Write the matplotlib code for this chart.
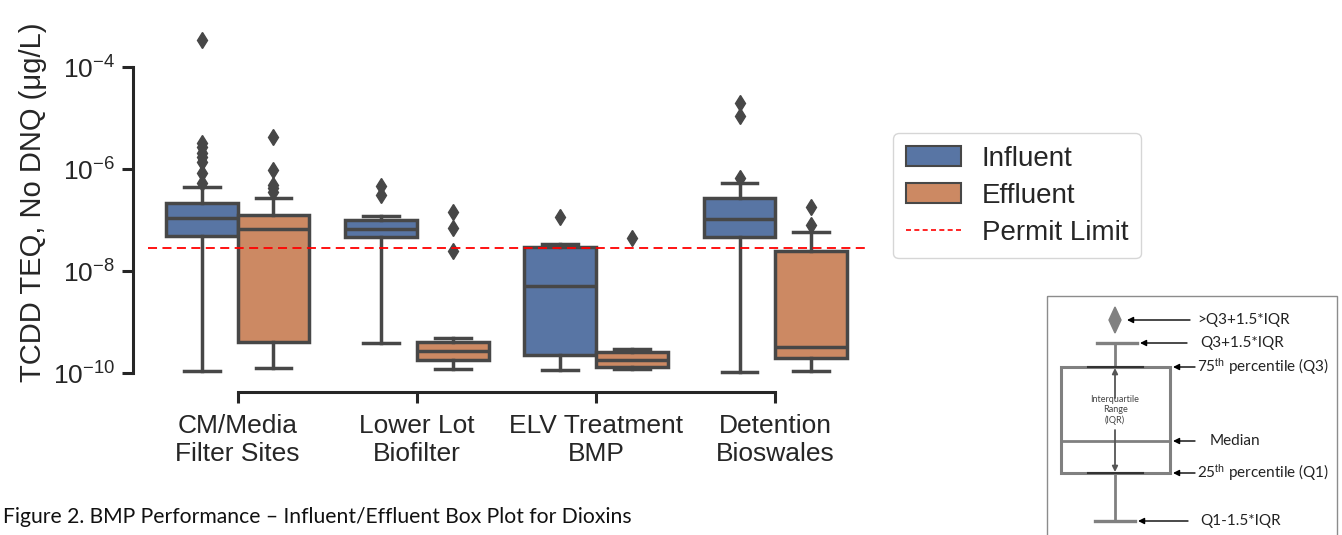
import matplotlib
matplotlib.use('Agg')
import matplotlib.pyplot as plt
from matplotlib.patches import Patch, Rectangle, Polygon
from matplotlib.lines import Line2D
from matplotlib.ticker import LogFormatterSciNotation, NullLocator, FixedLocator

plt.rcParams['font.family'] = ['Liberation Sans', 'DejaVu Sans']
plt.rcParams['mathtext.fontset'] = 'custom'
plt.rcParams['mathtext.rm'] = 'Liberation Sans'
plt.rcParams['mathtext.it'] = 'Liberation Sans:italic'
plt.rcParams['mathtext.bf'] = 'Liberation Sans:bold'
plt.rcParams['mathtext.sf'] = 'Liberation Sans'

# ---------------- data ----------------
categories = ["CM/Media\nFilter Sites", "Lower Lot\nBiofilter", "ELV Treatment\nBMP", "Detention\nBioswales"]
series_names = ["Influent", "Effluent"]

influent_q1 = [4.9e-8, 4.7e-8, 2.3e-10, 4.7e-8]
influent_med = [1.1e-7, 6.6e-8, 5.1e-9, 1.05e-7]
influent_q3 = [2.15e-7, 1.0e-7, 2.95e-8, 2.7e-7]
influent_whislo = [1.1e-10, 3.9e-10, 1.15e-10, 1.04e-10]
influent_whishi = [4.5e-7, 1.2e-7, 3.4e-8, 5.4e-7]
influent_fliers = [[3.4e-4, 3.2e-6, 2.7e-6, 2.1e-6, 1.7e-6, 1.4e-6, 8.3e-7, 5.4e-7],
                   [4.7e-7, 3.1e-7],
                   [1.15e-7],
                   [1.96e-5, 1.1e-5, 6.6e-7]]

effluent_q1 = [4.1e-10, 1.8e-10, 1.3e-10, 2.0e-10]
effluent_med = [6.6e-8, 2.7e-10, 1.8e-10, 3.2e-10]
effluent_q3 = [1.26e-7, 4.1e-10, 2.6e-10, 2.5e-8]
effluent_whislo = [1.26e-10, 1.2e-10, 1.2e-10, 1.1e-10]
effluent_whishi = [2.7e-7, 4.9e-10, 2.95e-10, 5.8e-8]
effluent_fliers = [[4.3e-6, 9.5e-7, 4.9e-7, 4.3e-7, 3.5e-7],
                   [1.45e-7, 6.9e-8, 2.5e-8],
                   [4.5e-8],
                   [1.8e-7, 8e-8]]

permit_limit = 2.8e-8
y_ticks = [1e-10, 1e-8, 1e-6, 1e-4]
ylabel = "TCDD TEQ, No DNQ (μg/L)"
caption = "Figure 2. BMP Performance \u2013 Influent/Effluent Box Plot for Dioxins"

# ---------------- style ----------------
W, H = 1342, 535
BLUE = '#5875a4'
ORANGE = '#cc8963'
LINE = '#474747'
SPINE = '#262626'


def fr(x0, y0, x1, y1):
    return [x0 / W, 1 - y1 / H, (x1 - x0) / W, (y1 - y0) / H]


fig = plt.figure(figsize=(W / 100, H / 100), dpi=100)
ax = fig.add_axes(fr(148, 25, 865, 380))


def make_stats(q1, med, q3, lo, hi, fl):
    return [dict(q1=a, med=b, q3=c, whislo=d, whishi=e, fliers=f)
            for a, b, c, d, e, f in zip(q1, med, q3, lo, hi, fl)]


groups = [
    (make_stats(influent_q1, influent_med, influent_q3, influent_whislo, influent_whishi, influent_fliers), -0.2, BLUE),
    (make_stats(effluent_q1, effluent_med, effluent_q3, effluent_whislo, effluent_whishi, effluent_fliers), 0.2, ORANGE),
]
lw = 2.5
for stats, off, col in groups:
    pos = [i + off for i in range(len(categories))]
    ax.bxp(stats, positions=pos, widths=0.4, capwidths=0.2, patch_artist=True,
           manage_ticks=False,
           boxprops=dict(facecolor=col, edgecolor=LINE, linewidth=lw),
           medianprops=dict(color=LINE, linewidth=lw),
           whiskerprops=dict(color=LINE, linewidth=lw),
           capprops=dict(color=LINE, linewidth=lw),
           flierprops=dict(marker='d', markerfacecolor=LINE, markeredgecolor=LINE,
                           markersize=8, linestyle='none'))

ax.axhline(permit_limit, color='red', linestyle=(0, (5, 3)), linewidth=1.3, zorder=10)

ax.set_yscale('log')
ax.set_ylim(10 ** -10.137, 10 ** -3.176)
ax.set_xlim(-0.5, len(categories) - 0.5)
ax.yaxis.set_major_locator(FixedLocator(y_ticks))
ax.yaxis.set_minor_locator(NullLocator())
ax.yaxis.set_major_formatter(LogFormatterSciNotation())

for s in ['top', 'right']:
    ax.spines[s].set_visible(False)
ax.spines['left'].set_position(('outward', 10.8))
ax.spines['bottom'].set_position(('outward', 8.6))
ax.spines['left'].set_bounds(y_ticks[0], y_ticks[-1])
ax.spines['bottom'].set_bounds(0, len(categories) - 1)
for s in ['left', 'bottom']:
    ax.spines[s].set_linewidth(2.2)
    ax.spines[s].set_color(SPINE)
ax.tick_params(axis='both', length=8, width=2.2, color=SPINE, labelcolor=SPINE)
ax.tick_params(axis='y', labelsize=19, pad=5)
ax.tick_params(axis='x', labelsize=19, pad=8)
ax.set_xticks(range(len(categories)))
ax.set_xticklabels(categories, fontsize=19, linespacing=1.2, color=SPINE)
ax.set_ylabel(ylabel, fontsize=21, color=SPINE, labelpad=4)
ax.patch.set_visible(False)

# legend
handles = [Patch(facecolor=BLUE, edgecolor=LINE, linewidth=1.5),
           Patch(facecolor=ORANGE, edgecolor=LINE, linewidth=1.5),
           Line2D([], [], color='red', linestyle=(0, (3, 2)), linewidth=1.2)]
labels = series_names + ["Permit Limit"]
leg = fig.legend(handles, labels, loc='upper left', bbox_to_anchor=(893 / W, 1 - 133 / H),
                 fontsize=20, frameon=True, fancybox=True, edgecolor='#cccccc',
                 handlelength=2.0, handleheight=0.7, handletextpad=0.75,
                 labelspacing=0.4, borderpad=0.45, borderaxespad=0)
for t in leg.get_texts():
    t.set_color(SPINE)

# caption
fig.text(3 / W, 1 - 517 / H, caption, ha='left', va='center', fontsize=15.2,
         family=['Lato', 'DejaVu Sans'], color='#111111')

# ---------------- explanatory key (schematic) ----------------
ov = fig.add_axes([0, 0, 1, 1])
ov.set_xlim(0, W)
ov.set_ylim(H, 0)
ov.axis('off')
G = '#808080'
ov.add_patch(Rectangle((1047, 296), 290, 260, fill=False, ec='#8c8c8c', lw=1.0))
ov.add_patch(Rectangle((1061, 367), 109, 106, fill=False, ec=G, lw=2.2))
ov.plot([1061, 1170], [441, 441], color=G, lw=2.0)
ov.plot([1115, 1115], [343, 367], color=G, lw=2.0)
ov.plot([1097, 1137], [343, 343], color=G, lw=2.4)
ov.plot([1115, 1115], [473, 521], color=G, lw=2.0)
ov.plot([1095, 1135], [521, 521], color=G, lw=2.4)
ov.plot([1088, 1143], [367, 367], color='#333333', lw=1.5)
ov.plot([1088, 1143], [473, 473], color='#333333', lw=1.5)
ov.add_patch(Polygon([(1115, 307), (1121, 320), (1115, 333), (1109, 320)], closed=True,
                     fc=G, ec=G))
ap = dict(arrowstyle='-|>', color='black', lw=1.0, mutation_scale=9, shrinkA=0, shrinkB=0)
key_items = [
    ((1127, 320), (1190, 320), (1197, 320), '>Q3+1.5*IQR'),
    ((1140, 343), (1187, 343), (1200, 343), 'Q3+1.5*IQR'),
    ((1173, 367), (1195, 367), (1197, 367), r'75$^{\rm th}$ percentile (Q3)'),
    ((1173, 441), (1195, 441), (1210, 441), 'Median'),
    ((1173, 473), (1195, 473), (1197, 473), r'25$^{\rm th}$ percentile (Q1)'),
    ((1138, 521), (1188, 521), (1200, 521), 'Q1-1.5*IQR'),
]
for xy, xyt, tpos, txt in key_items:
    ov.annotate('', xy=xy, xytext=xyt, arrowprops=ap)
    ov.text(tpos[0], tpos[1], txt, ha='left', va='center', fontsize=11,
            family=['Lato', 'DejaVu Sans'], color='#222222')
ap2 = dict(arrowstyle='-|>', color='#555555', lw=1.3, mutation_scale=8, shrinkA=0, shrinkB=0)
ov.annotate('', xy=(1115, 368), xytext=(1115, 398), arrowprops=ap2)
ov.annotate('', xy=(1115, 472), xytext=(1115, 430), arrowprops=ap2)
ov.text(1115, 410, 'Interquartile\nRange\n(IQR)', ha='center', va='center', fontsize=6.5,
        family=['Lato', 'DejaVu Sans'], color='#444444', linespacing=1.1)

fig.savefig('out.png', dpi=100)
